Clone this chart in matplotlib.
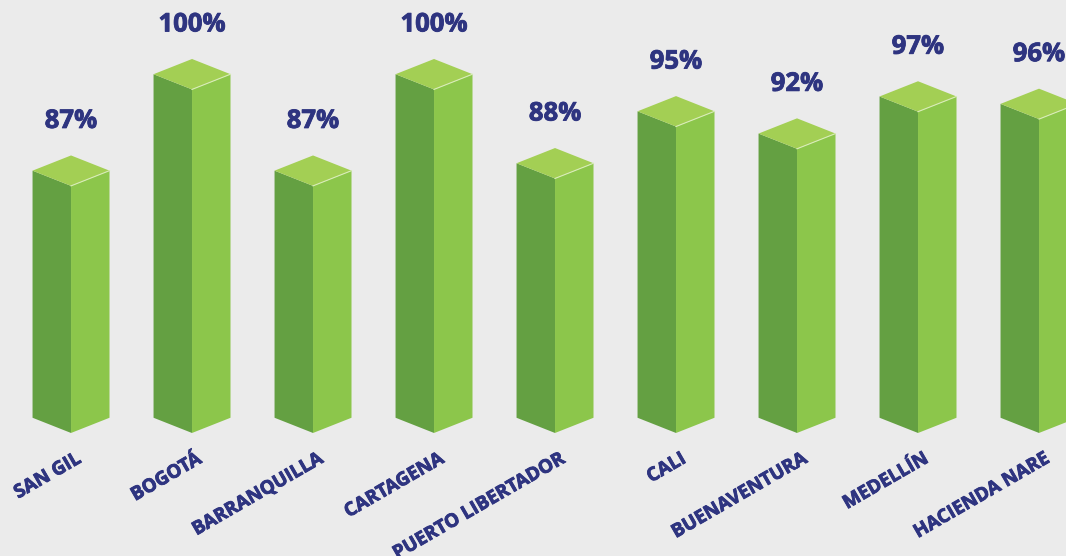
import matplotlib.pyplot as plt
from matplotlib.patches import Polygon
import matplotlib.patheffects as pe

cities = ["SAN GIL", "BOGOTÁ", "BARRANQUILLA", "CARTAGENA", "PUERTO LIBERTADOR",
          "CALI", "BUENAVENTURA", "MEDELLÍN", "HACIENDA NARE"]
values = [87, 100, 87, 100, 88, 95, 92, 97, 96]

bg = "#ebebeb"
c_left = "#64a042"
c_right = "#8cc64b"
c_top = "#a3cf54"
c_text = "#2e3480"

base = 53.7      # value at the bars' front bottom edge
half_w = 0.318   # half width of the prism, in category units
depth = 2.05     # isometric drop of the side edges, in value units
px = 7.42        # pixels per value unit (used only for text offsets)

fig = plt.figure(figsize=(10.66, 5.56), dpi=100, facecolor=bg)
ax = fig.add_axes([0, 0, 1, 1])
ax.set_facecolor(bg)
ax.set_xlim(-0.587, 8.223)
ax.set_ylim(37.12, 112.05)
ax.axis("off")

heavy = [pe.withStroke(linewidth=0.6, foreground=c_text)]

for i, (name, v) in enumerate(zip(cities, values)):
    c = i
    l, r = c - half_w, c + half_w
    ax.add_patch(Polygon([(l, base + depth), (c, base), (c, v), (l, v + depth)],
                         closed=True, fc=c_left, ec="none"))
    ax.add_patch(Polygon([(c, base), (r, base + depth), (r, v + depth), (c, v)],
                         closed=True, fc=c_right, ec="none"))
    ax.add_patch(Polygon([(c, v), (l, v + depth), (c, v + 2 * depth), (r, v + depth)],
                         closed=True, fc=c_top, ec="none"))
    ax.plot([c, r], [v, v + depth], color="#d9ecb8", lw=0.8)

    ax.text(c, v + 2 * depth + 35 / px, f"{v}%", ha="center", va="center",
            fontsize=18.5, fontweight="bold", family="Open Sans", color=c_text,
            path_effects=heavy)
    ax.text(c + 0.09, base - 29 / px, name, ha="right", va="baseline",
            rotation=30, rotation_mode="anchor", fontsize=13.5,
            fontweight="bold", family="Open Sans", color=c_text,
            path_effects=heavy)

fig.savefig("out.png", dpi=100, facecolor=bg)
